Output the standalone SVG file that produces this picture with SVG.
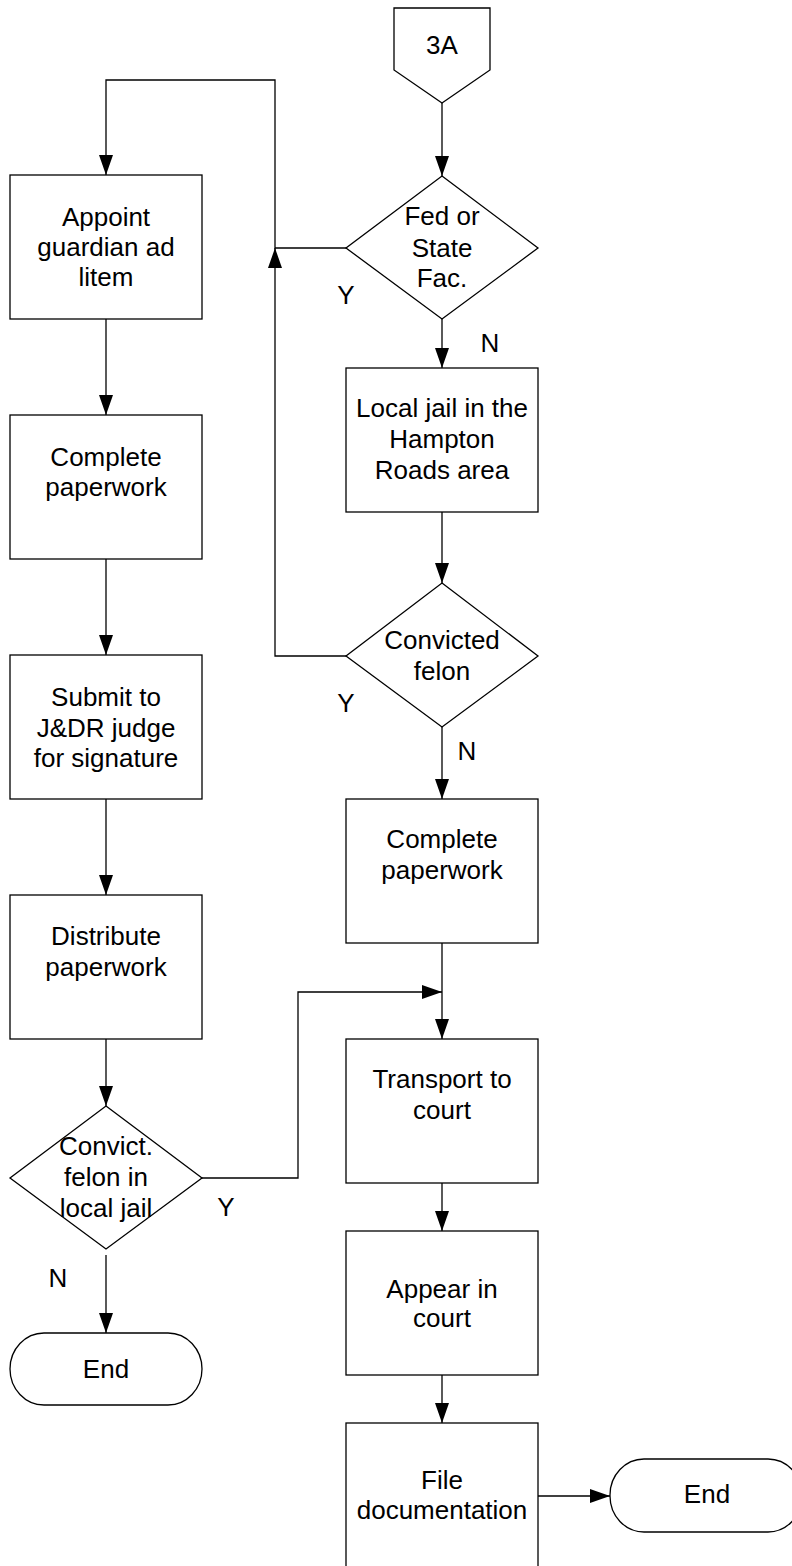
<svg xmlns="http://www.w3.org/2000/svg" width="792" height="1566" viewBox="0 0 792 1566">
<style>
.s{fill:#fff;stroke:#000;stroke-width:1.3}
.c{fill:none;stroke:#000;stroke-width:1.3}
text{font-family:"Liberation Sans",Arial,sans-serif;font-size:26px;fill:#000;text-anchor:middle}
</style>
<defs>
<marker id="ah" markerUnits="userSpaceOnUse" markerWidth="20" markerHeight="14" refX="20" refY="7" orient="auto">
<path d="M0,0 L20,7 L0,14 z" fill="#000"/>
</marker>
</defs>
<rect width="792" height="1566" fill="#fff"/>
<g id="connectors">
<path class="c" d="M442,103 V176" marker-end="url(#ah)"/>
<path class="c" d="M442,319 V368" marker-end="url(#ah)"/>
<path class="c" d="M346,248 H275 V80 H106 V175" marker-end="url(#ah)"/>
<path class="c" d="M346,656 H275 V248" marker-end="url(#ah)"/>
<path class="c" d="M106,319 V415" marker-end="url(#ah)"/>
<path class="c" d="M106,559 V655" marker-end="url(#ah)"/>
<path class="c" d="M106,799 V895" marker-end="url(#ah)"/>
<path class="c" d="M106,1039 V1106" marker-end="url(#ah)"/>
<path class="c" d="M106,1255 V1333" marker-end="url(#ah)"/>
<path class="c" d="M202,1178 H298 V992 H442" marker-end="url(#ah)"/>
<path class="c" d="M442,512 V583" marker-end="url(#ah)"/>
<path class="c" d="M442,727 V799" marker-end="url(#ah)"/>
<path class="c" d="M442,943 V1039" marker-end="url(#ah)"/>
<path class="c" d="M442,1183 V1231" marker-end="url(#ah)"/>
<path class="c" d="M442,1375 V1423" marker-end="url(#ah)"/>
<path class="c" d="M538,1496 H610" marker-end="url(#ah)"/>
</g>
<g id="labels">
<text x="346" y="304">Y</text>
<text x="490" y="352">N</text>
<text x="346" y="712">Y</text>
<text x="467" y="760">N</text>
<text x="226" y="1216">Y</text>
<text x="58" y="1287">N</text>
</g>
<g id="n3A">
<path class="s" d="M394,8 H490 V70 L442,103 L394,70 Z"/>
<text x="442" y="54">3A</text>
</g>
<g id="fedState">
<path class="s" d="M442,176 L538,248 L442,319 L346,248 Z"/>
<text x="442" y="225">Fed or</text>
<text x="442" y="257">State</text>
<text x="442" y="287">Fac.</text>
</g>
<g id="localJail">
<rect class="s" x="346" y="368" width="192" height="144"/>
<text x="442" y="417">Local jail in the</text>
<text x="442" y="448">Hampton</text>
<text x="442" y="479">Roads area</text>
</g>
<g id="convicted">
<path class="s" d="M442,583 L538,656 L442,727 L346,656 Z"/>
<text x="442" y="649">Convicted</text>
<text x="442" y="680">felon</text>
</g>
<g id="completeRight">
<rect class="s" x="346" y="799" width="192" height="144"/>
<text x="442" y="848">Complete</text>
<text x="442" y="879">paperwork</text>
</g>
<g id="transport">
<rect class="s" x="346" y="1039" width="192" height="144"/>
<text x="442" y="1088">Transport to</text>
<text x="442" y="1119">court</text>
</g>
<g id="appear">
<rect class="s" x="346" y="1231" width="192" height="144"/>
<text x="442" y="1298">Appear in</text>
<text x="442" y="1327">court</text>
</g>
<g id="fileDoc">
<rect class="s" x="346" y="1423" width="192" height="150"/>
<text x="442" y="1489">File</text>
<text x="442" y="1519">documentation</text>
</g>
<g id="endRight">
<rect class="s" x="610" y="1459" width="192" height="73" rx="34" ry="36"/>
<text x="707" y="1503">End</text>
</g>
<g id="appoint">
<rect class="s" x="10" y="175" width="192" height="144"/>
<text x="106" y="226">Appoint</text>
<text x="106" y="256">guardian ad</text>
<text x="106" y="286">litem</text>
</g>
<g id="completeLeft">
<rect class="s" x="10" y="415" width="192" height="144"/>
<text x="106" y="466">Complete</text>
<text x="106" y="496">paperwork</text>
</g>
<g id="submit">
<rect class="s" x="10" y="655" width="192" height="144"/>
<text x="106" y="706">Submit to</text>
<text x="106" y="737">J&amp;DR judge</text>
<text x="106" y="767">for signature</text>
</g>
<g id="distribute">
<rect class="s" x="10" y="895" width="192" height="144"/>
<text x="106" y="945">Distribute</text>
<text x="106" y="976">paperwork</text>
</g>
<g id="convictLocal">
<path class="s" d="M106,1106 L202,1178 L106,1249 L10,1178 Z"/>
<text x="106" y="1155">Convict.</text>
<text x="106" y="1186">felon in</text>
<text x="106" y="1217">local jail</text>
</g>
<g id="endLeft">
<rect class="s" x="10" y="1333" width="192" height="72" rx="34" ry="36"/>
<text x="106" y="1378">End</text>
</g>
</svg>
